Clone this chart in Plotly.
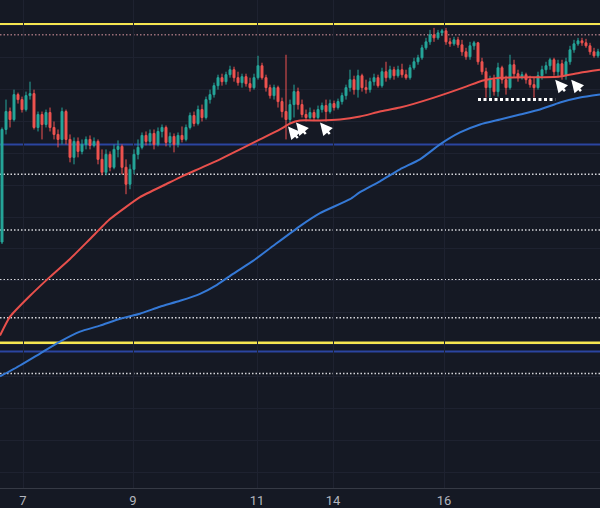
import plotly.graph_objects as go

# ---- data (price units, arbitrary scale) ----
opens = [247,360,378,370,395,390,380,394,396,362,375,365,377,362,355,350,378,350,332,348,
         338,345,350,344,348,330,317,335,322,340,343,322,305,320,335,342,354,348,356,345,
         358,362,347,353,345,354,350,362,374,366,380,372,390,395,404,412,408,415,420,412,
         407,413,406,402,412,424,412,402,394,402,388,378,370,385,398,385,375,372,377,372,
         380,384,378,386,382,388,394,402,410,400,414,402,400,408,412,404,418,412,420,414,
         420,415,412,422,428,432,442,448,455,452,457,459,448,446,450,445,438,433,444,447,
         428,418,402,410,398,422,410,402,425,416,412,415,410,405,402,414,420,424,430,418,
         426,414,428,440,446,449,447,444,438,434]
highs = [362,390,382,400,397,393,398,408,400,378,378,380,382,368,360,382,380,355,352,352,
         350,353,354,352,350,340,340,338,345,349,345,330,325,340,350,357,358,360,360,362,
         365,364,357,356,357,363,365,377,378,384,385,393,400,407,415,416,418,424,423,418,
         416,416,412,416,434,427,415,405,405,404,392,435,390,405,402,390,380,382,380,384,
         387,390,390,389,391,397,405,420,414,420,416,410,412,416,415,422,428,424,423,424,
         426,420,425,432,435,445,452,460,462,460,461,462,452,453,453,450,442,448,449,448,
         432,422,414,415,427,424,414,435,430,420,418,417,414,412,418,424,428,432,432,430,
         430,432,444,450,452,452,451,447,442,441]
lows = [245,355,362,368,386,377,378,390,360,358,350,362,358,350,342,345,345,327,325,332,
        335,340,340,342,325,314,314,318,320,332,315,295,300,315,330,340,344,344,340,343,
        352,343,342,337,342,347,348,360,363,364,368,370,386,392,400,404,405,412,408,404,
        402,403,398,400,410,410,398,391,390,382,372,350,366,372,380,372,368,370,369,370,
        377,368,376,379,380,385,390,398,395,392,398,396,397,404,402,402,408,410,410,412,
        412,410,410,420,425,430,440,445,448,450,454,445,443,444,442,434,430,430,440,425,
        415,392,392,394,393,406,395,400,412,408,410,406,402,392,400,410,416,420,414,412,
        410,410,425,437,444,444,442,435,432,432]
closes = [360,378,370,395,390,380,394,396,362,375,365,377,362,355,350,378,350,332,348,338,
          345,350,344,348,330,317,335,322,340,343,322,305,320,335,342,354,348,356,345,358,
          362,347,353,345,354,350,362,374,366,380,372,390,395,404,412,408,415,420,412,407,
          413,406,402,412,424,412,402,394,402,388,378,370,385,398,385,375,372,377,372,380,
          384,378,386,382,388,394,402,410,400,414,402,400,408,412,404,418,412,420,414,420,
          415,412,422,428,432,442,448,455,452,457,459,448,446,450,445,438,433,444,447,428,
          418,402,410,398,422,410,402,425,416,412,415,410,405,402,414,420,424,430,418,426,
          414,428,440,446,449,447,444,438,434,438]

ma_fast_x = [-0.5, 2, 7, 12, 17, 22, 27, 34.5, 41, 45, 49.5, 54.5, 59.5, 64.5, 69.5, 72, 74.5,
             79.5, 84.5, 89.5, 94.5, 99.5, 108, 116, 120, 124.5, 139, 144.5, 149.5]
ma_fast = [153, 172, 193, 212, 230, 250, 270, 292, 305, 313, 321, 330, 340, 350, 360, 366, 369,
           369, 370, 373, 378, 382, 392, 403, 409, 412, 413, 417, 420]

ma_slow_x = [-0.5, 4.5, 9.5, 14.5, 19.5, 24.5, 29.5, 34.5, 39.5, 44.5, 49.5, 53.75, 57.75, 62.75,
             67.75, 74.5, 79.5, 87, 89.5, 94.5, 99.5, 104.5, 109.5, 114.5, 119.5, 124.5, 129.5,
             134.5, 139.5, 144.5, 149.5]
ma_slow = [112, 123, 135, 147, 157, 163, 170, 175, 182, 188, 195, 204, 215, 228, 243, 263, 276,
           290, 297, 308, 320, 330, 345, 357, 365, 370, 375, 380, 387, 392, 395]

yellow_levels = [465.5, 145.5]
navy_levels = [345, 137]
white_dotted_levels = [315, 259, 209, 171, 115]
pink_dotted_levels = [455]

support_x = [119, 138.3]
support_y = [390, 390]

arrow_x = [71.5, 73.5, 79.5, 138.3, 142.3]
arrow_y = [363, 367, 367, 410, 410]

tick_vals = [5.25, 32.75, 63.75, 82.75, 110.5]
tick_text = ["7", "9", "11", "14", "16"]

BG = "#151924"
GRID = "#1e2230"

fig = go.Figure()

for lv in white_dotted_levels:
    fig.add_hline(y=lv, line=dict(color="rgba(235,235,240,0.9)", width=1.5, dash="1.5px,2px"), layer="below")
for lv in pink_dotted_levels:
    fig.add_hline(y=lv, line=dict(color="rgba(200,140,150,0.75)", width=1.5, dash="1.5px,2px"), layer="below")
for lv in navy_levels:
    fig.add_hline(y=lv, line=dict(color="#2b45a0", width=2), layer="below")
for lv in yellow_levels:
    fig.add_hline(y=lv, line=dict(color="#f6e650", width=3), layer="below")

fig.add_trace(go.Scatter(x=ma_slow_x, y=ma_slow, mode="lines",
                         line=dict(color="#3579d6", width=2, shape="spline", smoothing=0.5),
                         hoverinfo="skip", showlegend=False))
fig.add_trace(go.Scatter(x=ma_fast_x, y=ma_fast, mode="lines",
                         line=dict(color="#e8504c", width=2, shape="spline", smoothing=0.5),
                         hoverinfo="skip", showlegend=False))

fig.add_trace(go.Candlestick(
    x=list(range(len(closes))), open=opens, high=highs, low=lows, close=closes,
    increasing=dict(line=dict(color="#26a69a", width=1), fillcolor="#26a69a"),
    decreasing=dict(line=dict(color="#ef5350", width=1), fillcolor="#ef5350"),
    whiskerwidth=0, hoverinfo="skip", showlegend=False))

fig.add_trace(go.Scatter(x=support_x, y=support_y, mode="lines",
                         line=dict(color="white", width=3, dash="3px,2.5px"),
                         hoverinfo="skip", showlegend=False))

for ax_, ay_ in zip(arrow_x, arrow_y):
    fig.add_annotation(x=ax_, y=ay_, xref="x", yref="y", text="", showarrow=True,
                       ax=11, ay=13, arrowhead=2, arrowsize=1, arrowwidth=2.5,
                       arrowcolor="white", standoff=0)

fig.update_layout(
    width=600, height=508,
    margin=dict(l=0, r=0, t=0, b=18),
    paper_bgcolor=BG, plot_bgcolor=BG,
    showlegend=False,
    xaxis=dict(range=[-0.5, 149.5], tickvals=tick_vals, ticktext=tick_text,
               showgrid=True, gridcolor=GRID, gridwidth=1, zeroline=False,
               showline=True, linecolor="#363a45", linewidth=1, ticks="",
               tickfont=dict(family="Roboto, Liberation Sans, sans-serif", size=13, color="#b2b5be"),
               rangeslider=dict(visible=False), fixedrange=True),
    yaxis=dict(range=[0, 490], showticklabels=False, showgrid=True, gridcolor=GRID,
               tick0=16, dtick=32, zeroline=False, showline=False, ticks="", fixedrange=True),
)

fig.write_html("out.html", config={"displayModeBar": False},
               post_script="document.body.style.margin='0';document.body.style.background='" + BG + "';")
